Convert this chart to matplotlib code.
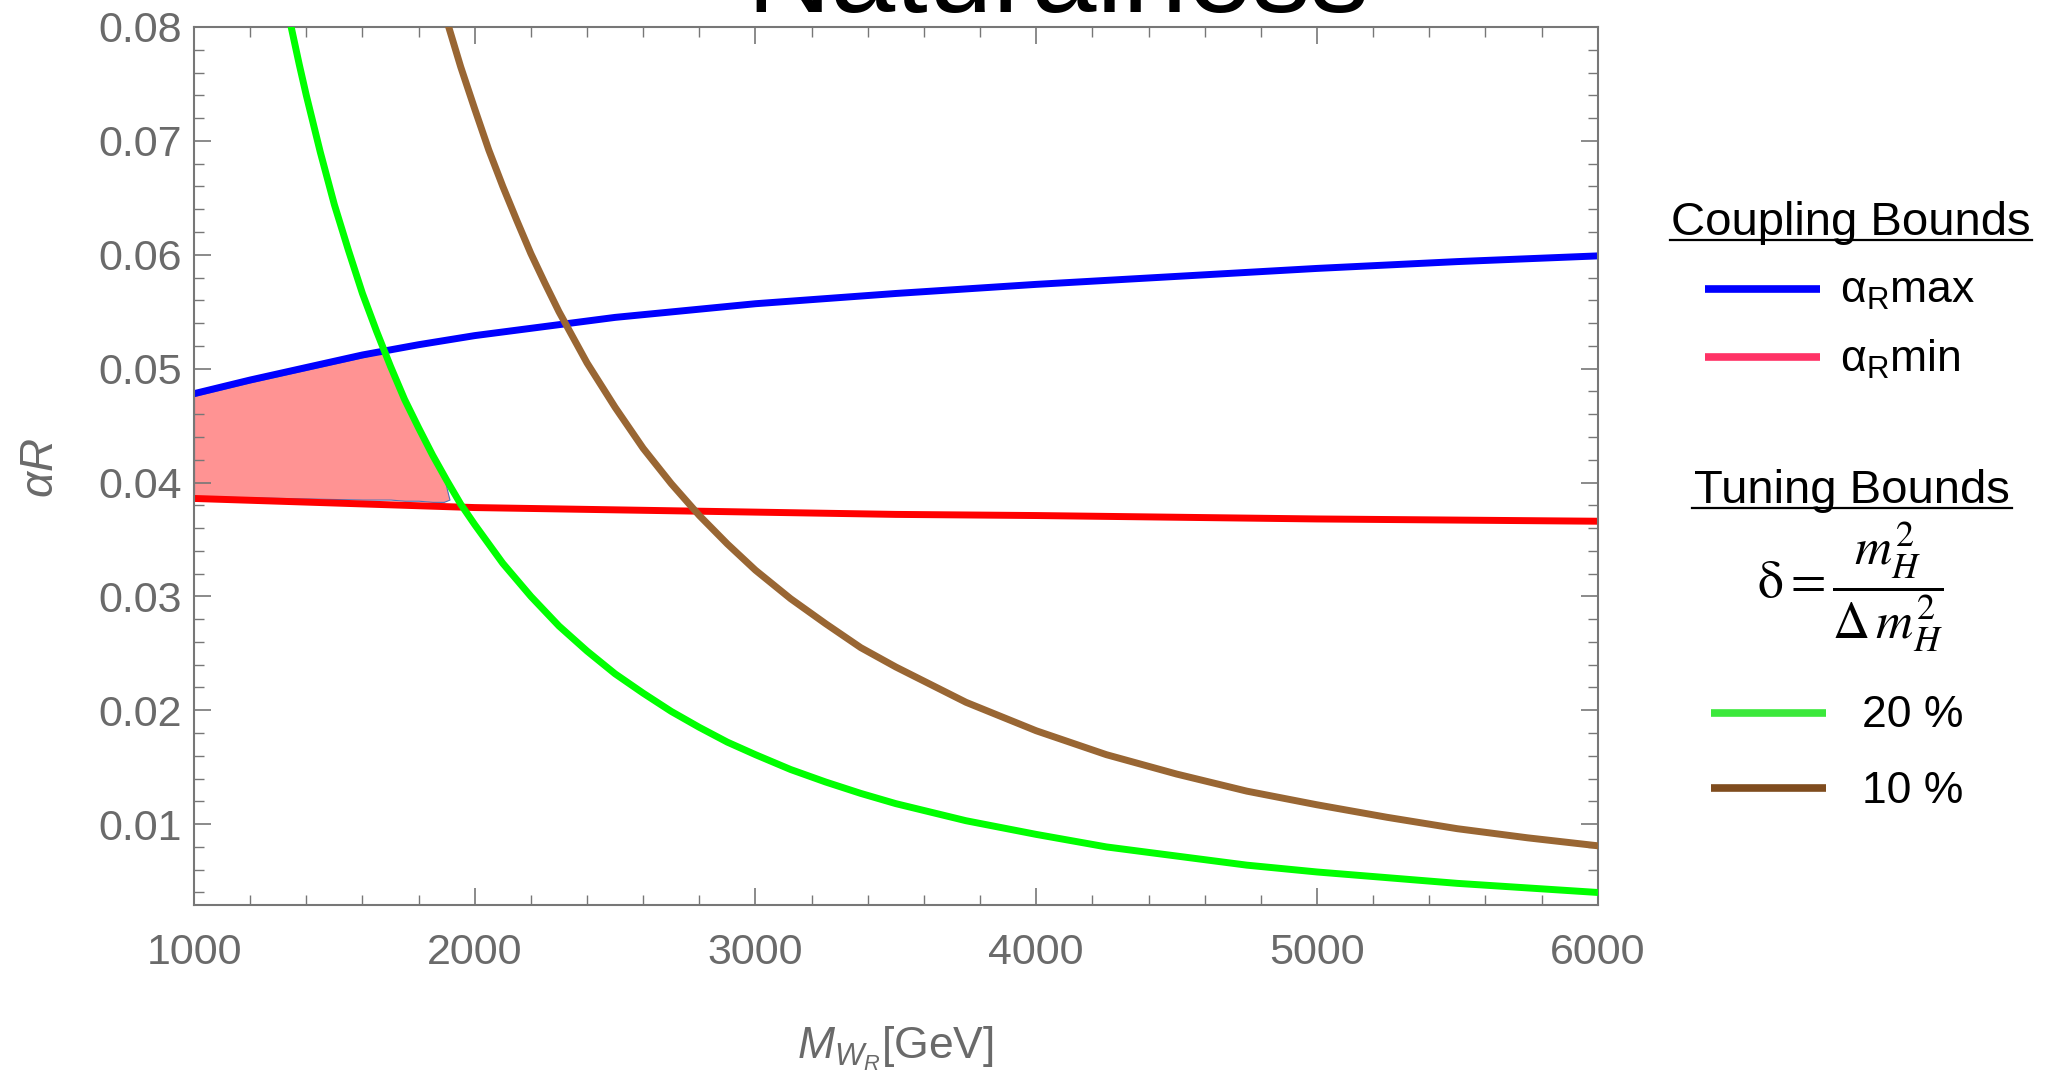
import numpy as np
import matplotlib
matplotlib.use('Agg')
import matplotlib.pyplot as plt
from matplotlib.ticker import MultipleLocator, FormatStrFormatter

plt.rcParams['font.family'] = ['Liberation Sans', 'DejaVu Sans']
plt.rcParams['mathtext.fontset'] = 'custom'
plt.rcParams['mathtext.rm'] = 'Liberation Sans'
plt.rcParams['mathtext.it'] = 'Liberation Sans:italic'

# coupling bounds (alpha_R max / min) vs M_WR [GeV]
blue_x = [1000, 1200, 1400, 1600, 1800, 2000, 2250, 2500, 2750, 3000, 3500, 4000, 4500, 5000, 5500, 6000]
blue_y = [0.0478, 0.0490, 0.0501, 0.0512, 0.0521, 0.0529, 0.0537, 0.0545, 0.0551, 0.0557,
          0.0566, 0.0574, 0.0581, 0.0588, 0.0594, 0.0599]
red_x = [1000, 1500, 2000, 2500, 3000, 3500, 4000, 5000, 6000]
red_y = [0.0386, 0.0382, 0.0378, 0.0376, 0.0374, 0.0372, 0.0371, 0.0368, 0.0366]

# tuning bounds, 20 % and 10 %
green_x = [1340, 1375, 1400, 1450, 1500, 1550, 1600, 1650, 1700, 1750, 1800, 1850, 1900, 1950,
           2000, 2100, 2200, 2300, 2400, 2500, 2600, 2700, 2800, 2900, 3000, 3125, 3250, 3375,
           3500, 3750, 4000, 4250, 4500, 4750, 5000, 5250, 5500, 5750, 6000]
green_y = [0.0807, 0.0767, 0.0740, 0.0690, 0.0644, 0.0604, 0.0566, 0.0533, 0.0502, 0.0473,
           0.0448, 0.0424, 0.0402, 0.0381, 0.0363, 0.0329, 0.0300, 0.0274, 0.0252, 0.0232,
           0.0215, 0.0199, 0.0185, 0.0172, 0.0161, 0.0148, 0.0137, 0.0127, 0.0118, 0.0103,
           0.0091, 0.0080, 0.0072, 0.0064, 0.0058, 0.0053, 0.0048, 0.0044, 0.0040]
brown_x = [1900, 1950, 2000, 2050, 2100, 2150, 2200, 2250, 2300, 2400, 2500, 2600, 2700, 2800,
           2900, 3000, 3125, 3250, 3375, 3500, 3750, 4000, 4250, 4500, 4750, 5000, 5250, 5500,
           5750, 6000]
brown_y = [0.0806, 0.0765, 0.0728, 0.0692, 0.0660, 0.0630, 0.0601, 0.0575, 0.0550, 0.0505,
           0.0466, 0.0430, 0.0399, 0.0371, 0.0346, 0.0323, 0.0298, 0.0276, 0.0255, 0.0238,
           0.0207, 0.0182, 0.0161, 0.0144, 0.0129, 0.0117, 0.0106, 0.0096, 0.0088, 0.0081]

# allowed region
fill_x = [1000, 1200, 1400, 1600, 1670, 1700, 1750, 1800, 1850, 1890, 1910]
fill_top = [0.0476, 0.0488, 0.0499, 0.0510, 0.0514, 0.0501, 0.0472, 0.0447, 0.0423, 0.0405, 0.0385]
fill_bot = [0.0388, 0.0387, 0.0386, 0.0385, 0.0385, 0.0385, 0.0384, 0.0384, 0.0383, 0.0383, 0.0385]

gray = '#6a6a6a'

fig = plt.figure(figsize=(20.55, 10.76), dpi=100)
ax = fig.add_axes([194 / 2055, 1 - 905 / 1076, (1597.7 - 194) / 2055, (905 - 27) / 1076])

ax.fill_between(fill_x, fill_bot, fill_top, facecolor='#ff9393', edgecolor='#4a72b8', lw=0.8, zorder=1)
ax.plot(blue_x, blue_y, color='#0000ff', lw=5, zorder=2, solid_joinstyle='round')
ax.plot(red_x, red_y, color='#ff0000', lw=5, zorder=2, solid_joinstyle='round')
ax.plot(green_x, green_y, color='#00ff00', lw=5, zorder=3, solid_joinstyle='round')
ax.plot(brown_x, brown_y, color='#996633', lw=5, zorder=3, solid_joinstyle='round')

ax.set_xlim(1000, 6000)
ax.set_ylim(0.0029, 0.08)
ax.xaxis.set_major_locator(MultipleLocator(1000))
ax.xaxis.set_minor_locator(MultipleLocator(200))
ax.yaxis.set_major_locator(MultipleLocator(0.01))
ax.yaxis.set_minor_locator(MultipleLocator(0.002))
ax.yaxis.set_major_formatter(FormatStrFormatter('%.2f'))
ax.tick_params(which='both', direction='in', top=True, right=True, colors='#777777',
               labelcolor=gray, labelsize=31)
ax.tick_params(which='major', length=12, width=1.2)
ax.tick_params(which='minor', length=7, width=1.0)
ax.tick_params(axis='x', pad=20)
ax.tick_params(axis='y', pad=9)
for s in ax.spines.values():
    s.set_color('#777777')
    s.set_linewidth(1.5)

fig.text(895 / 2055, 1 - 1059 / 1076, r'$M_{W_R}$[GeV]', fontsize=32, color=gray,
         ha='center', va='baseline')
fig.text(41 / 2055, 1 - 468 / 1076, r'$\alpha R$', fontsize=33, color=gray,
         rotation=90, ha='center', va='center')
fig.text(1058 / 2055, 1 - 12 / 1076, 'Naturalness', fontsize=84, color='black',
         ha='center', va='baseline')

# legend panel, coordinates in pixels
lax = fig.add_axes([1640 / 2055, 0, 415 / 2055, 1])
lax.set_xlim(1640, 2055)
lax.set_ylim(1076, 0)
lax.axis('off')

lax.text(1851, 235, 'Coupling Bounds', fontsize=34, ha='center', va='baseline')
lax.plot([1670, 2032], [240, 240], color='black', lw=1.6)
lax.plot([1705, 1820], [289, 289], color='#0000ff', lw=5.5, solid_capstyle='butt')
lax.text(1840, 303, r'$\mathrm{α}_\mathrm{R}\mathrm{max}$', fontsize=32, ha='left', va='baseline')
lax.plot([1705, 1820], [357, 357], color='#ff3366', lw=5.5, solid_capstyle='butt')
lax.text(1840, 372, r'$\mathrm{α}_\mathrm{R}\mathrm{min}$', fontsize=32, ha='left', va='baseline')

lax.text(1852, 503, 'Tuning Bounds', fontsize=34, ha='center', va='baseline')
lax.plot([1692, 2012], [508, 508], color='black', lw=1.6)
lax.text(1757, 587, r'$\mathrm{δ} = \dfrac{m_H^2}{\Delta\, m_H^2}$', fontsize=37, ha='left',
         va='center', math_fontfamily='stix')
lax.plot([1711, 1826], [713, 713], color='#3be83b', lw=5.5, solid_capstyle='butt')
lax.text(1862, 727, '20 %', fontsize=32, ha='left', va='baseline')
lax.plot([1711, 1826], [788, 788], color='#7f4c1e', lw=5.5, solid_capstyle='butt')
lax.text(1862, 803, '10 %', fontsize=32, ha='left', va='baseline')

fig.savefig('out.png', dpi=100)
